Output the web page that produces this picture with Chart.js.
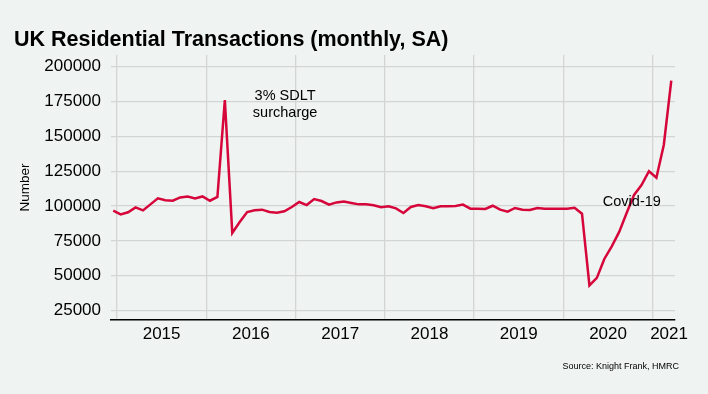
<!DOCTYPE html>
<html>
<head>
<meta charset="utf-8">
<script src="https://cdn.jsdelivr.net/npm/chart.js@4"></script>
<style>
    body { margin: 0; background: #eff3f2; }
    canvas { display: block; }
</style>
</head>
<body>
<canvas id="chart" width="708" height="394"></canvas>
<script>
// Monthly residential transactions, seasonally adjusted (Dec 2014 - Mar 2021)
const months = [
    '2014-12',
    '2015-01', '2015-02', '2015-03', '2015-04', '2015-05', '2015-06', '2015-07', '2015-08', '2015-09', '2015-10', '2015-11', '2015-12',
    '2016-01', '2016-02', '2016-03', '2016-04', '2016-05', '2016-06', '2016-07', '2016-08', '2016-09', '2016-10', '2016-11', '2016-12',
    '2017-01', '2017-02', '2017-03', '2017-04', '2017-05', '2017-06', '2017-07', '2017-08', '2017-09', '2017-10', '2017-11', '2017-12',
    '2018-01', '2018-02', '2018-03', '2018-04', '2018-05', '2018-06', '2018-07', '2018-08', '2018-09', '2018-10', '2018-11', '2018-12',
    '2019-01', '2019-02', '2019-03', '2019-04', '2019-05', '2019-06', '2019-07', '2019-08', '2019-09', '2019-10', '2019-11', '2019-12',
    '2020-01', '2020-02', '2020-03', '2020-04', '2020-05', '2020-06', '2020-07', '2020-08', '2020-09', '2020-10', '2020-11', '2020-12',
    '2021-01', '2021-02', '2021-03'
];
const transactions = [
    96700,
    94000, 95500, 99000, 96900, 101200, 105500, 104100, 103800, 106200, 106900, 105500, 106900,
    103800, 106500, 176000, 80700, 88500, 95700, 96900, 97400, 95700, 95200, 96200, 99300,
    102900, 100700, 105000, 103600, 101000, 102600, 103300, 102200, 101200, 101200, 100500, 99100,
    99800, 98300, 95000, 99300, 100700, 99800, 98400, 99800, 99800, 100000, 101000, 98100,
    98100, 97900, 100200, 97400, 96000, 98600, 97400, 97100, 98600, 98100, 98100, 98100,
    98100, 98800, 94500, 43000, 48400, 62000, 71100, 81400, 95000, 108000, 115000, 125000,
    120300, 144000, 190000
];
const yearLabels = ['2015', '2016', '2017', '2018', '2019', '2020', '2021'];
const yTicks = [25000, 50000, 75000, 100000, 125000, 150000, 175000, 200000];

// annotations: text lines, position in months since Jan 2015, value per line
const notes = [
    { lines: ['3% SDLT', 'surcharge'], at: 22.6, values: [179300, 167100] },
    { lines: ['Covid-19'], at: 69.2, values: [102700] }
];

const baseYear = 2015;
function monthPos(m) {
    const [y, mo] = m.split('-').map(Number);
    return (y - baseYear) * 12 + (mo - 1) + 0.5;
}

const points = months.map((m, i) => ({ x: monthPos(m), y: transactions[i] }));

// gridlines at year starts, labels mid-year (last one pulled in to fit)
const gridPos = yearLabels.map((y, i) => i * 12);
const labelPos = yearLabels.map((y, i) => Math.min(i * 12 + 6, 74.2));

const font = 'Liberation Sans, Arial, sans-serif';

const annotationPlugin = {
    id: 'notes',
    afterDraw(chart) {
        const ctx = chart.ctx;
        const xs = chart.scales.x;
        const ys = chart.scales.y;
        ctx.save();
        ctx.fillStyle = '#000';
        ctx.font = '14.5px ' + font;
        ctx.textAlign = 'center';
        ctx.textBaseline = 'middle';
        notes.forEach(n => {
            const px = xs.getPixelForValue(n.at);
            n.lines.forEach((line, i) => {
                ctx.fillText(line, px, ys.getPixelForValue(n.values[i]));
            });
        });
        // source note
        ctx.font = '9px ' + font;
        ctx.textAlign = 'right';
        ctx.fillText('Source: Knight Frank, HMRC', 679, 367);
        ctx.restore();
    }
};

new Chart(document.getElementById('chart'), {
    type: 'line',
    data: {
        datasets: [{
            data: points,
            borderColor: '#d6063b',
            borderWidth: 2.5,
            pointRadius: 0,
            tension: 0,
            fill: false
        }]
    },
    options: {
        responsive: false,
        animation: false,
        devicePixelRatio: 1,
        layout: { padding: { left: 14, right: 33, top: 0, bottom: 44 } },
        plugins: {
            legend: { display: false },
            tooltip: { enabled: false },
            title: {
                display: true,
                text: 'UK Residential Transactions (monthly, SA)',
                align: 'start',
                color: '#000',
                font: { family: font, size: 21.5, weight: 'bold' },
                padding: { top: 27, bottom: 2.2 }
            }
        },
        scales: {
            x: {
                type: 'linear',
                min: -0.8,
                max: 75,
                afterBuildTicks(scale) {
                    scale.ticks = gridPos.map(v => ({ value: v })).concat(labelPos.map(v => ({ value: v })));
                },
                afterFit(scale) { scale.height = 30; },
                grid: {
                    color: ctx => (ctx.tick && gridPos.includes(ctx.tick.value)) ? '#d2d5d4' : 'rgba(0,0,0,0)',
                    lineWidth: 1.3,
                    drawTicks: false
                },
                border: { display: true, color: '#000', width: 1.5 },
                ticks: {
                    autoSkip: false,
                    maxRotation: 0,
                    padding: 4,
                    color: '#000',
                    font: { family: font, size: 17 },
                    callback: value => {
                        const i = labelPos.indexOf(value);
                        return i >= 0 ? yearLabels[i] : '';
                    }
                }
            },
            y: {
                min: 18200,
                max: 208400,
                afterBuildTicks(scale) {
                    scale.ticks = yTicks.map(v => ({ value: v }));
                },
                afterFit(scale) { scale.width = 97; },
                grid: { color: '#d2d5d4', lineWidth: 1.3, drawTicks: false },
                border: { display: false },
                ticks: {
                    padding: 10,
                    color: '#000',
                    font: { family: font, size: 17 },
                    callback: v => String(v)
                },
                title: {
                    display: true,
                    text: 'Number',
                    color: '#000',
                    font: { family: font, size: 13.5 },
                    padding: { top: 3, bottom: 0 }
                }
            }
        }
    },
    plugins: [annotationPlugin]
});
</script>
</body>
</html>
